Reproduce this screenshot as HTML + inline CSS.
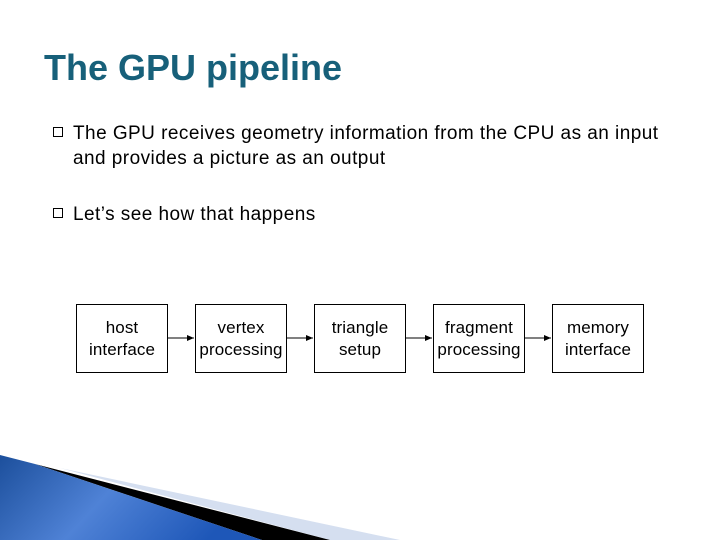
<!DOCTYPE html>
<html><head><style>
body{margin:0;width:720px;height:540px;background:#fff;position:relative;overflow:hidden;font-family:"Liberation Sans",sans-serif}
.t{position:absolute;left:44px;top:47px;font-size:36px;font-weight:bold;color:#17607a}
.b{position:absolute;left:53px;font-size:19px;letter-spacing:0.45px;color:#000;line-height:25px}
.b span.s{position:absolute;left:0;top:6px;width:10px;height:10px;border:1px solid #000;box-sizing:border-box}
.b div{margin-left:20px}
.box{position:absolute;top:304px;width:92px;height:69px;border:1px solid #000;box-sizing:border-box;display:flex;align-items:center;justify-content:center;text-align:center;font-size:17px;letter-spacing:0.1px;line-height:22px;padding-top:1px}
</style></head><body>
<div class="t">The GPU pipeline</div>
<div class="b" style="top:121px"><span class="s"></span><div>The GPU receives geometry information from the CPU as an input<br>and provides a picture as an output</div></div>
<div class="b" style="top:202px"><span class="s"></span><div>Let’s see how that happens</div></div>
<div class="box" style="left:76px">host<br>interface</div>
<div class="box" style="left:195px">vertex<br>processing</div>
<div class="box" style="left:314px">triangle<br>setup</div>
<div class="box" style="left:433px">fragment<br>processing</div>
<div class="box" style="left:552px">memory<br>interface</div>
<svg width="720" height="540" style="position:absolute;left:0;top:0">
<defs><marker id="a" markerWidth="8" markerHeight="8" refX="7" refY="4" orient="auto"><path d="M0,1 L7,4 L0,7z" fill="#000"/></marker>
<linearGradient id="g" x1="0" y1="0" x2="1" y2="0.3"><stop offset="0" stop-color="#1c4f9c"/><stop offset="0.5" stop-color="#4f82d6"/><stop offset="1" stop-color="#1e57b8"/></linearGradient></defs>
<g stroke="#000" stroke-width="1" marker-end="url(#a)">
<line x1="168" y1="338" x2="194" y2="338"/><line x1="287" y1="338" x2="313" y2="338"/><line x1="406" y1="338" x2="432" y2="338"/><line x1="525" y1="338" x2="551" y2="338"/></g>
<polygon points="60,468 400,540 330,540" fill="#d5dff0"/>
<polygon points="35,464 330,540 262,540" fill="#000"/>
<polygon points="0,455 35,464 262,540 0,540" fill="url(#g)"/>
</svg>
</body></html>
